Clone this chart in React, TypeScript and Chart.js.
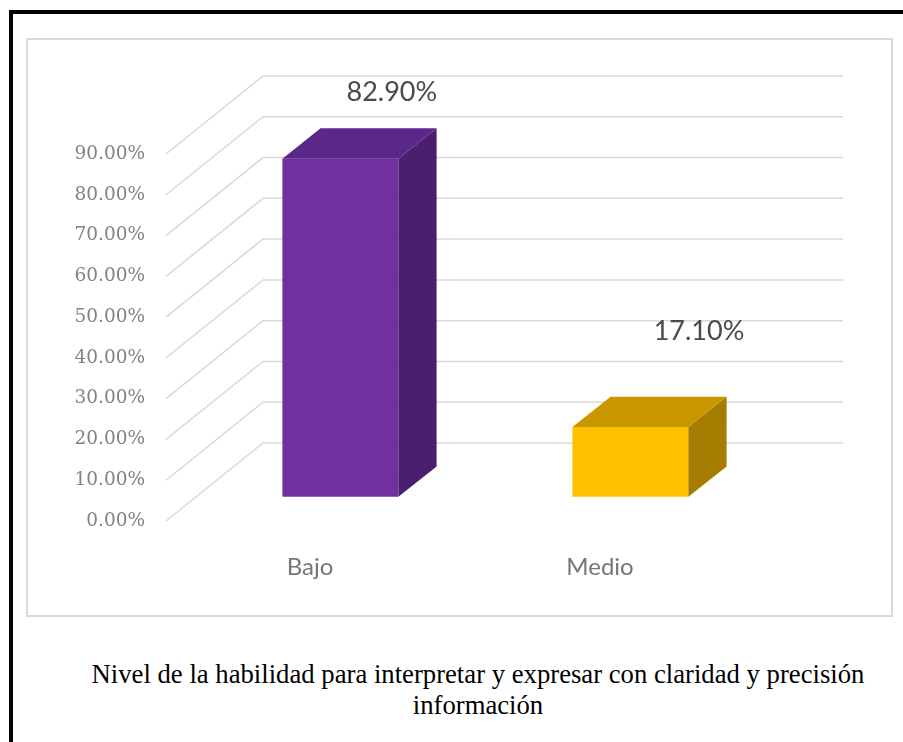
import React, { useEffect, useRef } from "react";
import { Chart, registerables } from "chart.js";

Chart.register(...registerables);

// ---- data ----
const CATEGORIES: string[] = ["Bajo", "Medio"];
const VALUES: number[] = [82.9, 17.1];
const Y_MIN = 0;
const Y_MAX = 90;
const Y_STEP = 10;
const CAPTION_LINES: string[] = [
  "Nivel de la habilidad para interpretar y expresar con claridad y precisión",
  "información",
];

// ---- styles ----
const FRONT_COLORS = ["#7030A0", "#FFC000"];
const TOP_COLORS = ["#5B2889", "#C99800"];
const SIDE_COLORS = ["#4A1F70", "#A67D00"];
const WALL = { dx: 98, dy: -78 }; // full depth vector of the 3D box
const FRONT_FRAC = 0.31; // depth where bars' front face sits
const BAR_FRAC = 0.39; // depth of the bars

const fmtPct = (v: number) => v.toFixed(2) + "%";

const threeDPlugin = {
  id: "threeD",
  beforeDatasetsDraw(chart: any) {
    const { ctx, chartArea, scales } = chart;
    const y = scales.y;
    ctx.save();
    ctx.strokeStyle = "#D9D9D9";
    ctx.lineWidth = 1.5;
    y.ticks.forEach((t: any) => {
      const py = y.getPixelForValue(t.value);
      ctx.beginPath();
      ctx.moveTo(chartArea.left + 1, py);
      ctx.lineTo(chartArea.left + WALL.dx, py + WALL.dy);
      ctx.lineTo(chartArea.right + WALL.dx, py + WALL.dy);
      ctx.stroke();
    });
    ctx.restore();
    ctx.save();
    ctx.translate(WALL.dx * FRONT_FRAC, WALL.dy * FRONT_FRAC);
  },
  afterDatasetsDraw(chart: any) {
    const { ctx } = chart;
    ctx.restore();
    const meta = chart.getDatasetMeta(0);
    const fx = WALL.dx * FRONT_FRAC;
    const fy = WALL.dy * FRONT_FRAC;
    const bx = WALL.dx * BAR_FRAC;
    const by = WALL.dy * BAR_FRAC;
    meta.data.forEach((bar: any, i: number) => {
      const p = bar.getProps(["x", "y", "base", "width"], true);
      const x0 = p.x - p.width / 2 + fx;
      const x1 = p.x + p.width / 2 + fx;
      const yt = p.y + fy;
      const yb = p.base + fy;
      // top face
      ctx.save();
      ctx.fillStyle = TOP_COLORS[i];
      ctx.beginPath();
      ctx.moveTo(x0, yt);
      ctx.lineTo(x1, yt);
      ctx.lineTo(x1 + bx, yt + by);
      ctx.lineTo(x0 + bx, yt + by);
      ctx.closePath();
      ctx.fill();
      // side face
      ctx.fillStyle = SIDE_COLORS[i];
      ctx.beginPath();
      ctx.moveTo(x1, yt);
      ctx.lineTo(x1 + bx, yt + by);
      ctx.lineTo(x1 + bx, yb + by);
      ctx.lineTo(x1, yb);
      ctx.closePath();
      ctx.fill();
      ctx.restore();

      // data label
      const v = VALUES[i];
      const lx = p.x + 80 + (Y_MAX - v) * 0.26;
      const ly = p.y - (88 + (Y_MAX - v) * 0.44);
      ctx.save();
      ctx.font = "27px Lato, 'Open Sans', sans-serif";
      ctx.fillStyle = "#4a4a4a";
      ctx.textAlign = "center";
      ctx.textBaseline = "middle";
      ctx.fillText(fmtPct(v), lx, ly);
      ctx.restore();
    });
  },
};

export default function App() {
  const ref = useRef<HTMLCanvasElement>(null);

  useEffect(() => {
    if (!ref.current) return;
    const chart = new Chart(ref.current, {
      type: "bar",
      data: {
        labels: CATEGORIES,
        datasets: [
          {
            data: VALUES,
            backgroundColor: FRONT_COLORS,
            borderWidth: 0,
            categoryPercentage: 1,
            barPercentage: 0.4,
            clip: false as any,
          },
        ],
      },
      options: {
        responsive: false,
        animation: false,
        layout: { padding: { left: 60, right: 158, top: 154, bottom: 141 } },
        plugins: {
          legend: { display: false },
          tooltip: { enabled: false },
          title: { display: false },
        },
        scales: {
          x: {
            grid: { display: false, drawTicks: false },
            border: { display: false },
            ticks: {
              color: "#767676",
              font: { family: "Lato, 'Open Sans', sans-serif", size: 24 },
              padding: 32,
            },
            afterFit: (s: any) => {
              s.height = 80;
            },
          },
          y: {
            min: Y_MIN,
            max: Y_MAX,
            grid: { display: false, drawTicks: false },
            border: { display: false },
            ticks: {
              stepSize: Y_STEP,
              color: "#828282",
              font: { family: "'DejaVu Serif', serif", size: 18.5 },
              padding: 20,
              callback: (v: any) => fmtPct(Number(v)),
            },
            afterFit: (s: any) => {
              s.width = 105;
            },
          },
        },
      },
      plugins: [threeDPlugin],
    });
    return () => chart.destroy();
  }, []);

  return (
    <div
      style={{
        position: "absolute",
        left: 0,
        top: 0,
        width: 903,
        height: 742,
        overflow: "hidden",
        background: "#fff",
      }}
    >
      <div
        style={{
          position: "absolute",
          left: 9,
          top: 10,
          width: 1000,
          height: 1000,
          border: "4px solid #000",
          boxSizing: "border-box",
        }}
      />
      <div
        style={{
          position: "absolute",
          left: 26,
          top: 38,
          width: 867,
          height: 579,
          border: "2px solid #D9D9D9",
          boxSizing: "border-box",
          background: "#fff",
        }}
      />
      <div
        style={{
          position: "absolute",
          left: 53,
          top: 659,
          width: 850,
          textAlign: "center",
          fontFamily: "'Liberation Serif', 'Times New Roman', serif",
          fontSize: 26.7,
          lineHeight: "31px",
          color: "#000",
          whiteSpace: "nowrap",
        }}
      >
        {CAPTION_LINES.map((l, i) => (
          <div key={i}>{l}</div>
        ))}
      </div>
      <canvas
        ref={ref}
        width={903}
        height={742}
        style={{ position: "absolute", left: 0, top: 0 }}
      />
    </div>
  );
}
